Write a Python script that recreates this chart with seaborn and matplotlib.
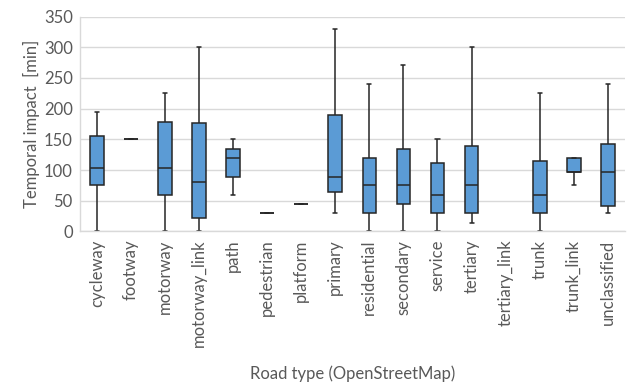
import pandas as pd
import matplotlib
matplotlib.use("Agg")
import matplotlib.pyplot as plt
import seaborn as sns

# five-number summaries (minutes)
categories = ["cycleway", "footway", "motorway", "motorway_link", "path",
              "pedestrian", "platform", "primary", "residential", "secondary",
              "service", "tertiary", "tertiary_link", "trunk", "trunk_link",
              "unclassified"]
mins = [0, 150, 0, 0, 59, 30, 44, 30, 0, 0, 0, 14, None, 0, 75, 30]
q1s = [75, 150, 59, 22, 89, 30, 44, 64, 30, 44, 30, 30, None, 30, 97, 41]
medians = [104, 150, 104, 81, 120, 30, 44, 89, 75, 75, 59, 75, None, 59, 97, 97]
q3s = [156, 150, 179, 176, 134, 30, 44, 190, 120, 134, 112, 139, None, 115, 120, 142]
maxs = [195, 150, 225, 300, 150, 30, 44, 330, 240, 271, 150, 300, None, 225, 120, 240]

TEXT = "#595959"
BLUE = "#5B9BD5"
EDGE = "#262626"


def build_frame():
    rows = []
    for i, cat in enumerate(categories):
        if mins[i] is None:
            continue
        for v in (mins[i], q1s[i], medians[i], q3s[i], maxs[i]):
            rows.append({"road_type": cat, "minutes": v})
    return pd.DataFrame(rows)


def main():
    df = build_frame()

    sns.set_style("white")
    plt.rcParams["font.family"] = ["Lato", "DejaVu Sans"]

    fig = plt.figure(figsize=(6.28, 3.85), dpi=100)
    ax = fig.add_axes([0.127, 0.399, 0.868, 0.558])

    sns.boxplot(data=df, x="road_type", y="minutes", order=categories,
                whis=(0, 100), width=0.4, color=BLUE, saturation=1,
                linecolor=EDGE, linewidth=1.1, fliersize=0,
                capwidths=0.12, ax=ax)

    ax.set_ylim(0, 350)
    ax.set_yticks(range(0, 351, 50))
    ax.set_xlim(-0.5, len(categories) - 0.5)
    ax.yaxis.grid(True, color="#D9D9D9", linewidth=1)
    ax.set_axisbelow(True)

    for s in ["top", "right"]:
        ax.spines[s].set_visible(False)
    for s in ["left", "bottom"]:
        ax.spines[s].set_color("#D9D9D9")
        ax.spines[s].set_linewidth(1)

    ax.tick_params(axis="both", length=0, colors=TEXT, labelsize=12)
    ax.tick_params(axis="x", rotation=90, pad=6)
    ax.tick_params(axis="y", pad=5)

    ax.set_xlabel("Road type (OpenStreetMap)", color=TEXT, fontsize=12,
                  labelpad=13)
    ax.set_ylabel("Temporal impact  [min]", color=TEXT, fontsize=12,
                  labelpad=3)

    fig.savefig("out.png", dpi=100)


if __name__ == "__main__":
    main()
